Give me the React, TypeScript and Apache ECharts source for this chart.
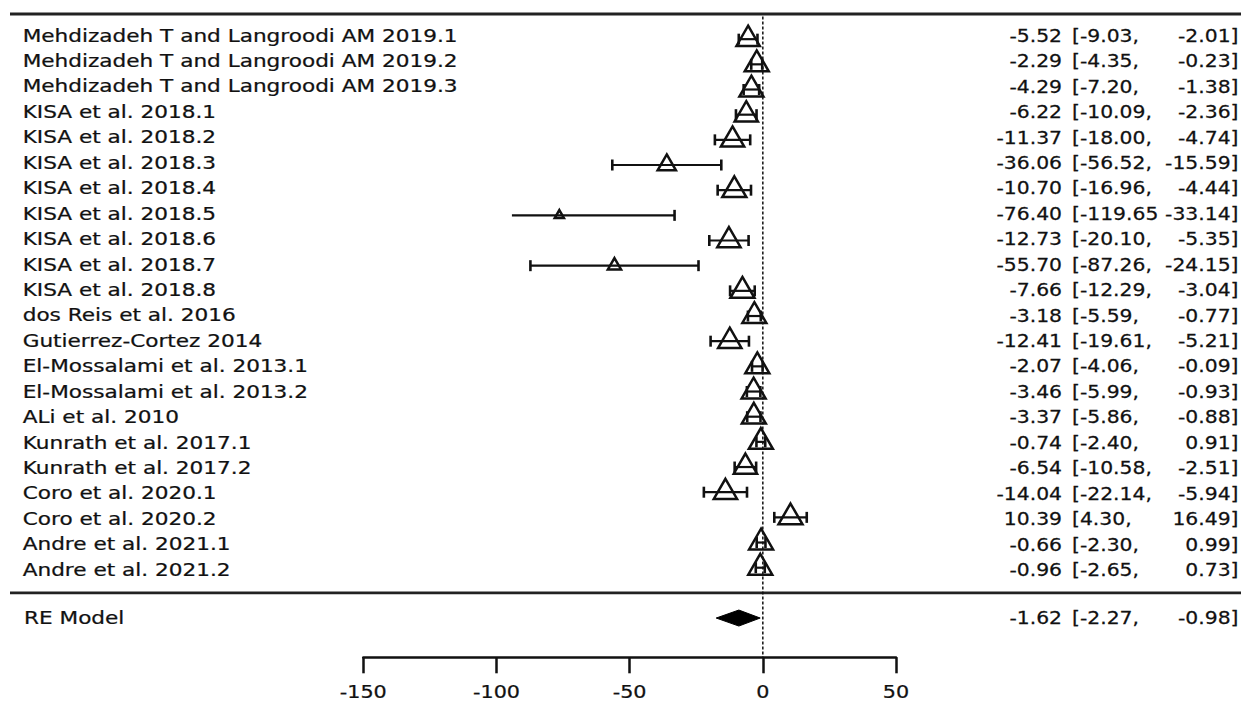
import React, { useEffect, useRef } from "react";
import * as echarts from "echarts";

// ---------- data ----------
const studies = [
  "Mehdizadeh T and Langroodi AM 2019.1",
  "Mehdizadeh T and Langroodi AM 2019.2",
  "Mehdizadeh T and Langroodi AM 2019.3",
  "KISA et al. 2018.1",
  "KISA et al. 2018.2",
  "KISA et al. 2018.3",
  "KISA et al. 2018.4",
  "KISA et al. 2018.5",
  "KISA et al. 2018.6",
  "KISA et al. 2018.7",
  "KISA et al. 2018.8",
  "dos Reis et al. 2016",
  "Gutierrez-Cortez 2014",
  "El-Mossalami et al. 2013.1",
  "El-Mossalami et al. 2013.2",
  "ALi et al. 2010",
  "Kunrath et al. 2017.1",
  "Kunrath et al. 2017.2",
  "Coro et al. 2020.1",
  "Coro et al. 2020.2",
  "Andre et al. 2021.1",
  "Andre et al. 2021.2",
];
const estimates = [-5.52, -2.29, -4.29, -6.22, -11.37, -36.06, -10.7, -76.4, -12.73, -55.7, -7.66, -3.18, -12.41, -2.07, -3.46, -3.37, -0.74, -6.54, -14.04, 10.39, -0.66, -0.96];
const lowerCI = [-9.03, -4.35, -7.2, -10.09, -18.0, -56.52, -16.96, -119.65, -20.1, -87.26, -12.29, -5.59, -19.61, -4.06, -5.99, -5.86, -2.4, -10.58, -22.14, 4.3, -2.3, -2.65];
const upperCI = [-2.01, -0.23, -1.38, -2.36, -4.74, -15.59, -4.44, -33.14, -5.35, -24.15, -3.04, -0.77, -5.21, -0.09, -0.93, -0.88, 0.91, -2.51, -5.94, 16.49, 0.99, 0.73];
// relative study weights (marker size)
const relWeights = [0.97, 1.0, 1.0, 0.97, 0.97, 0.76, 1.0, 0.38, 0.97, 0.55, 1.0, 1.0, 0.97, 1.0, 1.0, 1.0, 1.0, 0.97, 0.97, 1.0, 1.0, 1.0];

const summaryLabel = "RE Model";
const summaryText = [-1.62, -2.27, -0.98]; // est, lower, upper as printed
const summaryDiamond = [-17.5, -9.0, -1.0]; // lower, centre, upper as drawn
const xTicks = [-150, -100, -50, 0, 50];
const xMin = -150;
const xMax = 50;
const xStep = 50;
const plotLeftLimit = -94.2; // CI lines are cut here in the drawing

// ---------- layout / style ----------
const FONT = "DejaVu Sans";
const INK = "#111111";
const ROW_TOP_LINE = -1;
const ROW_SEPARATOR = 22;
const ROW_SUMMARY = 23;
const Y_MAX = 24.56;

function txt(text: string, x: number, y: number, align: string, sx: number) {
  return {
    type: "text",
    x,
    y,
    scaleX: sx,
    style: {
      text,
      fontFamily: FONT,
      fontSize: 18,
      fill: INK,
      stroke: INK,
      lineWidth: 0.25,
      align,
      verticalAlign: "middle",
    },
  };
}

function fmtLower(v: number) {
  const s = v.toFixed(2);
  return s.length > 6 ? "[" + s : "[" + s + ",";
}

function annot(est: number, lo: number, hi: number, y: number) {
  const sx = 1.13;
  return [
    txt(est.toFixed(2), 1062, y, "right", sx),
    txt(fmtLower(lo), 1072, y, "left", sx),
    txt(hi.toFixed(2) + "]", 1238.5, y, "right", sx),
  ];
}

export default function App() {
  const ref = useRef<HTMLDivElement>(null);

  useEffect(() => {
    document.body.style.margin = "0";
    if (!ref.current) return;
    const chart = echarts.init(ref.current, null, { renderer: "svg" });

    const rows = studies.map((_, i) => [i, estimates[i], lowerCI[i], upperCI[i], relWeights[i]]);

    const option: any = {
      animation: false,
      backgroundColor: "#ffffff",
      grid: { left: 363.3, right: 348, top: 14, bottom: 45.7, outerBoundsMode: "none" },
      xAxis: {
        type: "value",
        min: xMin,
        max: xMax,
        interval: xStep,
        axisLine: { show: true, onZero: false, lineStyle: { color: INK, width: 2.5 } },
        axisTick: { show: true, length: 16, inside: false, lineStyle: { color: INK, width: 2.5 } },
        axisLabel: { show: false },
        splitLine: { show: false },
      },
      yAxis: {
        type: "value",
        inverse: true,
        min: ROW_TOP_LINE,
        max: Y_MAX,
        show: false,
        splitLine: { show: false },
      },
      series: [
        {
          type: "custom",
          name: "frame",
          silent: true,
          clip: false,
          data: [[0, 0]],
          renderItem: (params: any, api: any) => {
            const w = api.getWidth();
            const yTop = api.coord([0, ROW_TOP_LINE])[1];
            const ySep = api.coord([0, ROW_SEPARATOR])[1];
            const z0 = api.coord([0, -0.9]);
            const z1 = api.coord([0, Y_MAX]);
            return {
              type: "group",
              children: [
                { type: "line", shape: { x1: 10, y1: yTop, x2: w - 3, y2: yTop }, style: { stroke: "#222", lineWidth: 3 } },
                { type: "line", shape: { x1: 10, y1: ySep, x2: w - 3, y2: ySep }, style: { stroke: "#222", lineWidth: 2.6 } },
                { type: "line", shape: { x1: z0[0], y1: z0[1], x2: z1[0], y2: z1[1] }, style: { stroke: INK, lineWidth: 1.5, lineDash: [3, 2] } },
              ],
            };
          },
        },
        {
          type: "custom",
          name: "tickLabels",
          silent: true,
          clip: false,
          data: xTicks.map((v) => [v, Y_MAX]),
          encode: { x: 0, y: 1 },
          renderItem: (params: any, api: any) => {
            const [x, y] = api.coord([api.value(0), api.value(1)]);
            return {
              type: "text",
              x,
              y: y + 34.5,
              scaleX: 1.15,
              style: {
                text: String(api.value(0)),
                fontFamily: FONT,
                fontSize: 18,
                fill: INK,
                stroke: INK,
                lineWidth: 0.25,
                align: "center",
                verticalAlign: "middle",
              },
            };
          },
        },
        {
          type: "custom",
          name: "studies",
          silent: true,
          clip: false,
          data: rows,
          encode: { x: [1, 2, 3], y: 0 },
          renderItem: (params: any, api: any) => {
            const i = params.dataIndex;
            const row = api.value(0);
            const est = api.value(1);
            const lo = api.value(2);
            const hi = api.value(3);
            const wt = api.value(4);
            const [xe, y] = api.coord([est, row]);
            const clipped = lo < plotLeftLimit;
            const xl = api.coord([clipped ? plotLeftLimit : lo, row])[0];
            const xh = api.coord([hi, row])[0];
            const W = 24 * wt;
            const capH = 5.5;
            const ty = api.coord([0, 1.0107 * row - 0.138])[1];
            const children: any[] = [
              { type: "line", shape: { x1: xl, y1: y, x2: xh, y2: y }, style: { stroke: INK, lineWidth: 2.2 } },
              { type: "line", shape: { x1: xh, y1: y - capH, x2: xh, y2: y + capH }, style: { stroke: INK, lineWidth: 2.6 } },
            ];
            if (!clipped) {
              children.push({ type: "line", shape: { x1: xl, y1: y - capH, x2: xl, y2: y + capH }, style: { stroke: INK, lineWidth: 2.6 } });
            }
            children.push({
              type: "polygon",
              shape: {
                points: [
                  [xe, y - W / Math.sqrt(3)],
                  [xe + W / 2, y + W / (2 * Math.sqrt(3))],
                  [xe - W / 2, y + W / (2 * Math.sqrt(3))],
                ],
              },
              style: { fill: "none", stroke: INK, lineWidth: 2.5 },
            });
            children.push(txt(studies[i], 22.7, ty, "left", 1.2));
            children.push(...annot(est, lo, hi, ty));
            return { type: "group", children };
          },
        },
        {
          type: "custom",
          name: "summary",
          silent: true,
          clip: false,
          data: [[ROW_SUMMARY, summaryDiamond[0], summaryDiamond[1], summaryDiamond[2]]],
          encode: { x: [1, 2, 3], y: 0 },
          renderItem: (params: any, api: any) => {
            const row = api.value(0);
            const [xl, y] = api.coord([api.value(1), row]);
            const xc = api.coord([api.value(2), row])[0];
            const xh = api.coord([api.value(3), row])[0];
            const h = 8;
            return {
              type: "group",
              children: [
                {
                  type: "polygon",
                  shape: { points: [[xl, y], [xc, y - h], [xh, y], [xc, y + h]] },
                  style: { fill: "#000", stroke: "#000", lineWidth: 1 },
                },
                txt(summaryLabel, 24, y, "left", 1.2),
                ...annot(summaryText[0], summaryText[1], summaryText[2], y),
              ],
            };
          },
        },
      ],
    };

    chart.setOption(option);
    return () => chart.dispose();
  }, []);

  return <div ref={ref} style={{ width: 1244, height: 703 }} />;
}
